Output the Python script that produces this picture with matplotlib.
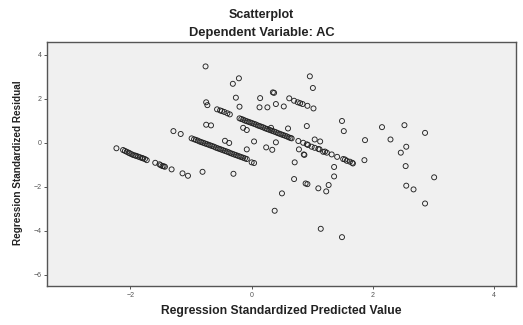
import numpy as np
import matplotlib
matplotlib.use("Agg")
import matplotlib.pyplot as plt

plt.rcParams['font.family'] = ['Liberation Sans', 'DejaVu Sans']

# standardized predicted value / standardized residual pairs
pred_scatter = [-0.76, -0.21, -0.31, 0.35, 0.37, -0.26, 0.14, -0.75, -0.73, -0.20,
                0.13, 0.26, 0.40, 0.53, 0.62, 0.70, 0.76, 0.80, 0.84, 0.92,
                1.02, 0.96, 1.01, -0.75, -0.67, -1.29, -1.17, -0.14, -0.08, 0.32,
                0.60, 0.91, 1.49, 1.52, 2.15, 2.52, 2.86, 1.87, 2.29, 2.55,
                2.46, 1.86, 2.54, 3.01, 2.55, 2.67, 2.86, 1.04, 1.13, -0.44,
                -0.37, 0.04, -0.08, 0.24, 0.34, 0.40, 0.78, 0.86, 0.87, 0.71,
                0.70, 0.50, 0.38, 1.36, 1.36, 0.89, 0.92, 1.27, 1.10, 1.23,
                1.14, 1.49, -0.81, -0.30, -0.08, 0.00, 0.04]
resid_scatter = [3.47, 2.93, 2.68, 2.29, 2.27, 2.05, 2.03, 1.84, 1.71, 1.64,
                 1.61, 1.61, 1.76, 1.65, 2.02, 1.91, 1.84, 1.80, 1.76, 1.68,
                 1.56, 3.02, 2.49, 0.82, 0.79, 0.53, 0.40, 0.68, 0.58, 0.68,
                 0.65, 0.76, 0.99, 0.53, 0.71, 0.80, 0.45, 0.12, 0.15, -0.18,
                 -0.45, -0.79, -1.06, -1.57, -1.95, -2.12, -2.76, 0.15, 0.06, 0.09,
                 -0.01, 0.06, -0.30, -0.21, -0.32, 0.02, -0.30, -0.53, -0.55, -0.89,
                 -1.65, -2.30, -3.09, -1.10, -1.53, -1.85, -1.88, -1.92, -2.07, -2.21,
                 -3.91, -4.29, -1.32, -1.41, -0.74, -0.89, -0.92]

# band of cases with the lowest observed value
pred_band_a = [-2.23, -2.12, -2.09, -2.06, -2.03, -2.01, -1.98, -1.95, -1.92, -1.90,
               -1.87, -1.84, -1.81, -1.79, -1.76, -1.73, -1.59, -1.52, -1.50, -1.47,
               -1.45, -1.43, -1.32, -1.14, -1.05]
resid_band_a = [-0.25, -0.33, -0.37, -0.41, -0.45, -0.48, -0.52, -0.56, -0.58, -0.60,
                -0.63, -0.66, -0.69, -0.71, -0.74, -0.79, -0.91, -0.98, -1.02, -1.06,
                -1.07, -1.09, -1.21, -1.39, -1.50]

# middle band
pred_band_b = [-0.99, -0.95, -0.92, -0.89, -0.86, -0.83, -0.80, -0.77, -0.74, -0.71,
               -0.68, -0.65, -0.62, -0.59, -0.56, -0.53, -0.50, -0.47, -0.44, -0.41,
               -0.38, -0.35, -0.32, -0.29, -0.26, -0.23, -0.20, -0.17, -0.14, -0.11]
resid_band_b = [0.20, 0.16, 0.13, 0.10, 0.06, 0.03, 0.00, -0.03, -0.06, -0.09,
                -0.12, -0.15, -0.18, -0.22, -0.25, -0.28, -0.31, -0.34, -0.37, -0.40,
                -0.43, -0.47, -0.50, -0.53, -0.56, -0.59, -0.62, -0.65, -0.68, -0.71]

# upper band
pred_band_c = [-0.57, -0.52, -0.49, -0.45, -0.40, -0.36, -0.20, -0.17, -0.14, -0.11,
               -0.08, -0.05, -0.02, 0.01, 0.04, 0.07, 0.10, 0.13, 0.16, 0.19,
               0.22, 0.25, 0.28, 0.31, 0.34, 0.37, 0.40, 0.43, 0.46, 0.49,
               0.52, 0.55, 0.58, 0.61, 0.64, 0.66, 0.77, 0.85, 0.91, 0.93,
               0.99, 1.04, 1.10, 1.12, 1.18, 1.21, 1.24, 1.32, 1.41, 1.51,
               1.54, 1.57, 1.62, 1.66, 1.67]
resid_band_c = [1.52, 1.47, 1.44, 1.40, 1.34, 1.29, 1.11, 1.08, 1.05, 1.01,
                0.98, 0.95, 0.92, 0.89, 0.86, 0.83, 0.79, 0.76, 0.73, 0.70,
                0.66, 0.63, 0.60, 0.57, 0.54, 0.51, 0.48, 0.44, 0.41, 0.38,
                0.35, 0.32, 0.29, 0.25, 0.22, 0.20, 0.08, 0.00, -0.07, -0.10,
                -0.18, -0.23, -0.28, -0.30, -0.41, -0.40, -0.45, -0.53, -0.64, -0.74,
                -0.76, -0.82, -0.86, -0.91, -0.94]

x_ticks = [-2, 0, 2, 4]
y_ticks = [-6, -4, -2, 0, 2, 4]

x = np.concatenate([pred_scatter, pred_band_a, pred_band_b, pred_band_c])
y = np.concatenate([resid_scatter, resid_band_a, resid_band_b, resid_band_c])

fig = plt.figure(figsize=(5.23, 3.25), dpi=100)
ax = fig.add_axes([47 / 523, 1 - 286 / 325, 469 / 523, 244 / 325])
ax.set_facecolor('#f0f0f0')

ax.scatter(x, y, s=13, facecolors='none', edgecolors='#222222', linewidths=0.65)

ax.set_xlim(-3.375, 4.36)
ax.set_ylim(-6.51, 4.58)
ax.set_xticks(x_ticks)
ax.set_yticks(y_ticks)
ax.tick_params(labelsize=5, colors='#555555', length=2.5, width=0.7, pad=1.5)

for sp in ax.spines.values():
    sp.set_color('#555555')
    sp.set_linewidth(1.0)

fig.text(0.5, 1 - 15 / 325, 'Scatterplot', ha='center', va='center',
         fontsize=9, fontweight='bold', color='#222222')
fig.text(0.5, 1 - 33 / 325, 'Dependent Variable: AC', ha='center', va='center',
         fontsize=9.3, fontweight='bold', color='#222222')
# axis titles sit centred on the plot frame
ax.text(0.5, -25 / 244, 'Regression Standardized Predicted Value',
        transform=ax.transAxes, ha='center', va='center', fontsize=8.7,
        fontweight='bold', color='#222222')
fig.text(18 / 523, 1 - 163 / 325, 'Regression Standardized Residual',
         ha='center', va='center', rotation=90, fontsize=7.2, fontweight='bold',
         color='#222222')

fig.savefig('out.png', dpi=100)
